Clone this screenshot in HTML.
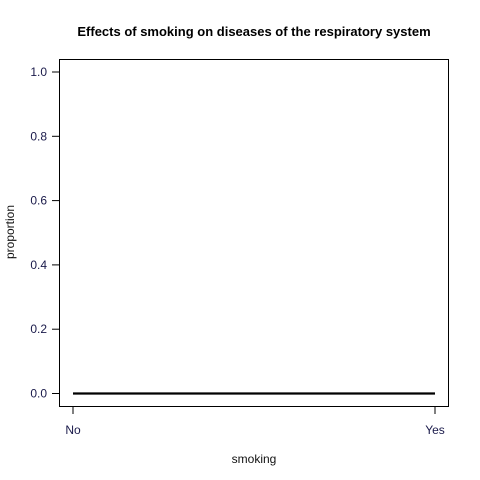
<!DOCTYPE html>
<html><head><meta charset="utf-8"><style>body{margin:0;background:#fff}svg{display:block}text{font-family:"Liberation Sans",sans-serif}</style></head>
<body>
<svg width="480" height="480">
<rect x="0" y="0" width="480" height="480" fill="#fff"/>
<text x="254" y="36" text-anchor="middle" font-size="13" font-weight="bold">Effects of smoking on diseases of the respiratory system</text>
<rect x="59.5" y="59.5" width="389" height="347" fill="none" stroke="#000" stroke-width="1"/>
<g id="yaxis"></g>
<g id="xaxis"></g>
<g id="series"></g>
<text x="254" y="463" text-anchor="middle" font-size="12" fill="#111">smoking</text>
<text transform="translate(14,232) rotate(-90)" text-anchor="middle" font-size="12" fill="#111">proportion</text>
</svg>
<script>
const categories=["No","Yes"];
const values=[0,0];
const yTicks=[0,0.2,0.4,0.6,0.8,1.0];
const yTickLabels=["0.0","0.2","0.4","0.6","0.8","1.0"];
const NS="http://www.w3.org/2000/svg";
function y(v){return 393.5-v*(393.5-72)/1;}
function x(i){return 73+i*(435-73)/(categories.length-1);}
function mk(t,a,p){const e=document.createElementNS(NS,t);for(const k in a)e.setAttribute(k,a[k]);p.appendChild(e);return e;}
const ya=document.getElementById('yaxis');
yTicks.forEach((v,i)=>{
 const l=mk('line',{x1:52,x2:59.5,y1:y(v),y2:y(v),stroke:'#000'},ya);
 
 
 const t=mk('text',{x:47,y:y(v)+4,'text-anchor':'end','font-size':12,fill:'#1a1a4a'},ya);
 t.textContent=yTickLabels[i];
 
 
});
const xa=document.getElementById('xaxis');
categories.forEach((c,i)=>{
 const l=mk('line',{x1:x(i),x2:x(i),y1:406.5,y2:414,stroke:'#000'},xa);
 
 
 const t=mk('text',{x:x(i),y:434,'text-anchor':'middle','font-size':12,fill:'#1a1a4a'},xa);
 t.textContent=c;
 
 
});
const s=document.getElementById('series');
const pts=values.map((v,i)=>x(i)+','+y(v)).join(' ');
const pl=mk('polyline',{points:pts,fill:'none',stroke:'#000','stroke-width':2.2},s);


</script>
</body></html>
